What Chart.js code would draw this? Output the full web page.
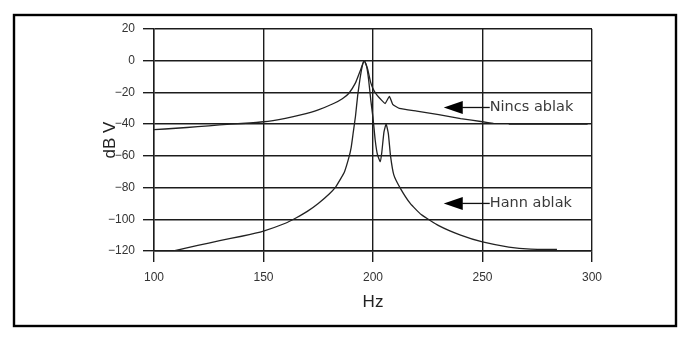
<!DOCTYPE html>
<html>
<head>
<meta charset="utf-8">
<script src="https://cdn.jsdelivr.net/npm/chart.js@4/dist/chart.umd.min.js"></script>
<style>
  html, body { margin: 0; padding: 0; background: #fff; }
  #wrap { width: 692px; height: 352px; position: relative; }
</style>
</head>
<body>
<div id="wrap"><canvas id="c" width="692" height="352"></canvas></div>
<script>
// ---- data ----
const nincsHz = [100, 110, 120, 130, 140, 150, 160, 167, 175, 182, 186, 189, 192, 194, 196, 197.5, 199, 200.5, 202, 204, 205.5, 207.5, 209, 212, 220, 230, 240, 250, 255, 258, 262, 280, 298];
const nincsDb = [-43.5, -42.6, -41.6, -40.5, -39.6, -38.5, -36.3, -34.2, -31, -27, -24, -20.5, -14, -7, 0, -5, -14, -19, -22, -25, -27, -22.5, -27.5, -30, -31.8, -34, -36.5, -38.5, -39.5, null, -40, -40, -40];

const hannHz = [109, 120, 130, 140, 150, 160, 165, 170, 175, 180, 183, 185, 187, 189, 190, 191, 192, 193, 194, 195, 196, 197, 198, 199, 200, 201, 202, 203.3, 204, 205, 206, 207, 208, 209.5, 212.5, 217, 222, 230, 240, 250, 262, 272, 284];
const hannDb = [-120, -116.5, -113.5, -110.7, -107.4, -102.5, -99, -95, -90, -84, -79.5, -75, -70, -61, -55, -45, -35, -22, -12, -4, 0, -3, -12, -25, -36, -50, -59, -63.7, -58, -45, -40, -46, -60, -72, -80.5, -90, -97, -104, -110, -114.3, -117.5, -118.8, -119];

const xTicks = [100, 150, 200, 250, 300];
const yTicks = [20, 0, -20, -40, -60, -80, -100, -120];
const xTickLabels = ['100', '150', '200', '250', '300'];
const yTickLabels = ['20', '0', '\u221220', '\u221240', '\u221260', '\u221280', '\u2212100', '\u2212120'];

const annotationLabels = ['Nincs ablak', 'Hann ablak'];
const annotationHz = [232.3, 232.3];
const annotationDb = [-29.5, -90];

const xTitle = 'Hz';
const yTitle = 'dB V';

// ---- build ----
const toPts = (xs, ys) => xs.map((x, i) => ({ x: x, y: ys[i] }));

const framePlugin = {
  id: 'frame',
  beforeDraw(chart) {
    const ctx = chart.ctx;
    ctx.save();
    ctx.fillStyle = '#ffffff';
    ctx.fillRect(0, 0, chart.width, chart.height);
    ctx.strokeStyle = '#000000';
    ctx.lineWidth = 2.4;
    ctx.strokeRect(14, 15, 662, 311);
    ctx.restore();
  }
};

const arrowPlugin = {
  id: 'arrows',
  afterDatasetsDraw(chart) {
    const ctx = chart.ctx;
    const xs = chart.scales.x, ys = chart.scales.y;
    ctx.save();
    for (let i = 0; i < annotationLabels.length; i++) {
      const px = xs.getPixelForValue(annotationHz[i]);
      const py = ys.getPixelForValue(annotationDb[i]);
      ctx.fillStyle = '#000';
      ctx.beginPath();
      ctx.moveTo(px, py);
      ctx.lineTo(px + 19, py - 6.5);
      ctx.lineTo(px + 19, py + 6.5);
      ctx.closePath();
      ctx.fill();
      ctx.strokeStyle = '#111';
      ctx.lineWidth = 1.3;
      ctx.beginPath();
      ctx.moveTo(px + 18, py);
      ctx.lineTo(px + 46, py);
      ctx.stroke();
      ctx.fillStyle = '#3a3a3a';
      ctx.font = '14.5px "DejaVu Sans", Verdana, sans-serif';
      ctx.textAlign = 'left';
      ctx.textBaseline = 'middle';
      ctx.fillText(annotationLabels[i], px + 46, py);
    }
    ctx.restore();
  }
};

const gridColor = '#1c1c1c';

new Chart(document.getElementById('c'), {
  type: 'line',
  data: {
    datasets: [
      {
        label: 'Nincs ablak',
        data: toPts(nincsHz, nincsDb),
        borderColor: '#222',
        borderWidth: 1.3,
        pointRadius: 0,
        tension: 0.15,
        spanGaps: false,
        fill: false
      },
      {
        label: 'Hann ablak',
        data: toPts(hannHz, hannDb),
        borderColor: '#222',
        borderWidth: 1.3,
        pointRadius: 0,
        tension: 0.15,
        fill: false
      }
    ]
  },
  options: {
    responsive: false,
    animation: false,
    events: [],
    layout: { padding: { top: 29, right: 100, left: 0, bottom: 0 } },
    plugins: {
      legend: { display: false },
      tooltip: { enabled: false },
      title: { display: false }
    },
    scales: {
      x: {
        type: 'linear',
        min: 100, max: 300,
        afterBuildTicks(scale) { scale.ticks = xTicks.map(v => ({ value: v })); },
        afterFit(scale) { scale.height = 101; },
        ticks: {
          padding: 8,
          color: '#333',
          font: { family: '"Liberation Sans", Arial, sans-serif', size: 12 },
          maxRotation: 0,
          callback: (v) => { const i = xTicks.indexOf(v); return i >= 0 ? xTickLabels[i] : ''; }
        },
        grid: { color: gridColor, lineWidth: 1.4, tickLength: 11, tickColor: gridColor, drawTicks: true },
        border: { display: true, color: gridColor, width: 1.4 },
        title: {
          display: true, text: xTitle, color: '#222',
          font: { family: '"Liberation Sans", Arial, sans-serif', size: 17 },
          padding: { top: 0, bottom: 39 }
        }
      },
      y: {
        type: 'linear',
        min: -120, max: 20,
        afterBuildTicks(scale) { scale.ticks = yTicks.map(v => ({ value: v })); },
        afterFit(scale) { scale.width = 154; },
        ticks: {
          padding: 8,
          color: '#333',
          font: { family: '"Liberation Sans", Arial, sans-serif', size: 12 },
          callback: (v) => { const i = yTicks.indexOf(v); return i >= 0 ? yTickLabels[i] : ''; }
        },
        grid: { color: gridColor, lineWidth: 1.4, tickLength: 11, tickColor: gridColor, drawTicks: true },
        border: { display: true, color: gridColor, width: 1.4 },
        title: {
          display: true, text: yTitle, color: '#222',
          font: { family: '"Liberation Sans", Arial, sans-serif', size: 17 },
          padding: { top: 100, bottom: 0 }
        }
      }
    }
  },
  plugins: [framePlugin, arrowPlugin]
});
</script>
</body>
</html>
